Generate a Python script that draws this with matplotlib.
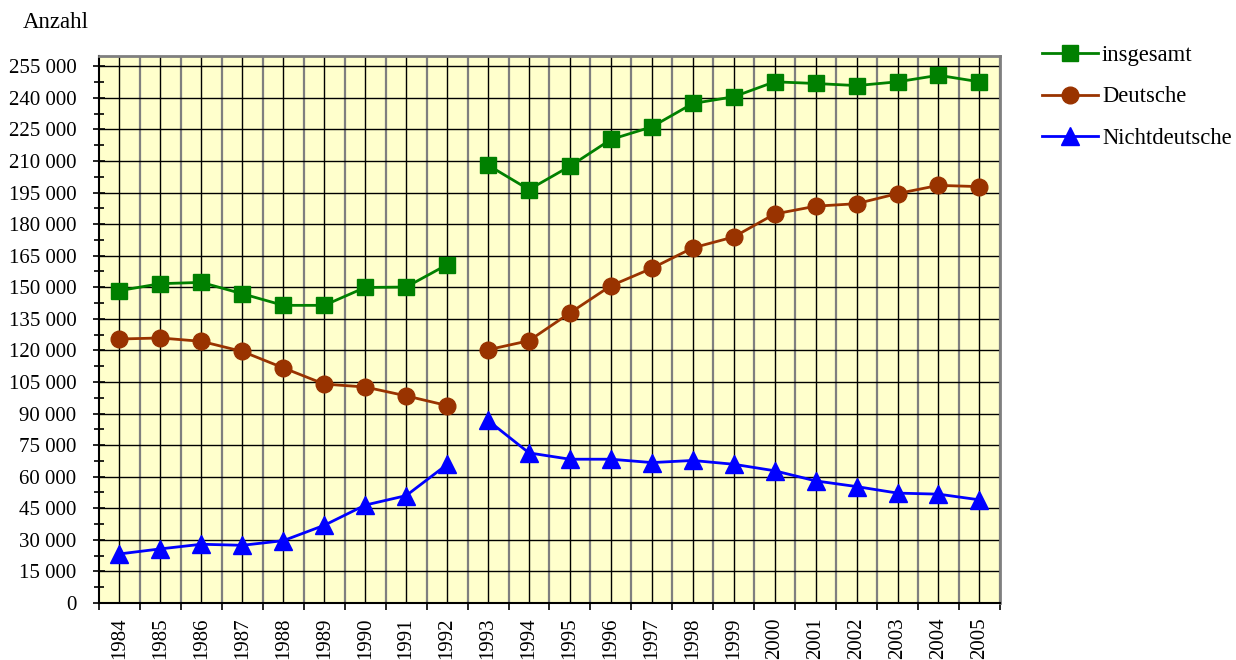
import matplotlib.pyplot as plt
from matplotlib.ticker import FixedLocator, FuncFormatter

plt.rcParams['font.family'] = ['Liberation Serif', 'DejaVu Serif']

years = ["1984", "1985", "1986", "1987", "1988", "1989", "1990", "1991", "1992",
         "1993", "1994", "1995", "1996", "1997", "1998", "1999", "2000", "2001",
         "2002", "2003", "2004", "2005"]
insgesamt = [148400, 151700, 152300, 146900, 141400, 141400, 149900, 150100, 160700,
             208000, 196400, 207500, 220200, 226200, 237300, 240500, 247600, 246800,
             245800, 247600, 250700, 247600]
deutsche = [125400, 125900, 124300, 119500, 111700, 104000, 102600, 98400, 93800,
            120300, 124600, 137800, 150700, 159000, 168700, 173900, 184800, 188500,
            189700, 194500, 198400, 197800]
nichtdeutsche = [23300, 25700, 27900, 27400, 29600, 36900, 46500, 51000, 65800,
                 86700, 71300, 68300, 68300, 66700, 67700, 65900, 62800, 58000,
                 55300, 52200, 51700, 49000]
series = [("insgesamt", insgesamt, "#008000", "s", 12),
          ("Deutsche", deutsche, "#993300", "o", 12),
          ("Nichtdeutsche", nichtdeutsche, "#0000ff", "^", 13)]
split = 9  # Bruch zwischen 1992 und 1993

fig = plt.figure(figsize=(12.36, 6.6), dpi=100)
ax = fig.add_axes([0.0801, 0.0864, 0.809 - 0.0801, 0.9156 - 0.0864])
ax.set_facecolor("#ffffcc")

x = list(range(len(years)))
for name, vals, col, mk, ms in series:
    ax.plot(x[:split], vals[:split], color=col, marker=mk, markersize=ms, lw=2, label=name, zorder=3)
    ax.plot(x[split:], vals[split:], color=col, marker=mk, markersize=ms, lw=2, zorder=3)

ax.set_xlim(-0.5, len(years) - 0.5)
ax.set_ylim(0, 260000)

# vertikale Gitterlinien
for i in x:
    ax.axvline(i, color="black", lw=1.0, zorder=1)
    ax.axvline(i + 0.5, color="#7f7f7f", lw=1.6, zorder=1)
for v in range(15000, 260000, 15000):
    ax.axhline(v, color="black", lw=1.0, zorder=1)

ax.set_xticks(x)
ax.set_xticklabels(years, rotation=90, fontsize=15)
ax.xaxis.set_minor_locator(FixedLocator([i - 0.5 for i in range(len(years) + 1)]))
ax.tick_params(axis="x", which="major", length=0, pad=10.5)
ax.tick_params(axis="x", which="minor", length=5, direction="out", width=1.2)

ax.set_yticks(range(0, 255001, 15000))
ax.yaxis.set_minor_locator(FixedLocator(range(7500, 255000, 15000)))
ax.yaxis.set_major_formatter(FuncFormatter(lambda v, p: f"{int(v):,}".replace(",", " ")))
ax.tick_params(axis="y", which="major", length=8.6, direction="inout", width=1.2, labelsize=15, pad=12)
ax.tick_params(axis="y", which="minor", length=7, direction="inout", width=1.2)

for s in ["left", "bottom"]:
    ax.spines[s].set_color("black")
    ax.spines[s].set_linewidth(1.5)
for s in ["top", "right"]:
    ax.spines[s].set_color("#7f7f7f")
    ax.spines[s].set_linewidth(2)

fig.text(23 / 1236, 1 - 23 / 660, "Anzahl", fontsize=16.5, va="center", ha="left")

fig.legend(loc="upper left", bbox_to_anchor=(1033 / 1236, 1 - 36 / 660), frameon=False,
           fontsize=16.3, handlelength=2.45, handletextpad=0.2, labelspacing=0.9,
           borderaxespad=0)

fig.savefig("out.png", dpi=100)
